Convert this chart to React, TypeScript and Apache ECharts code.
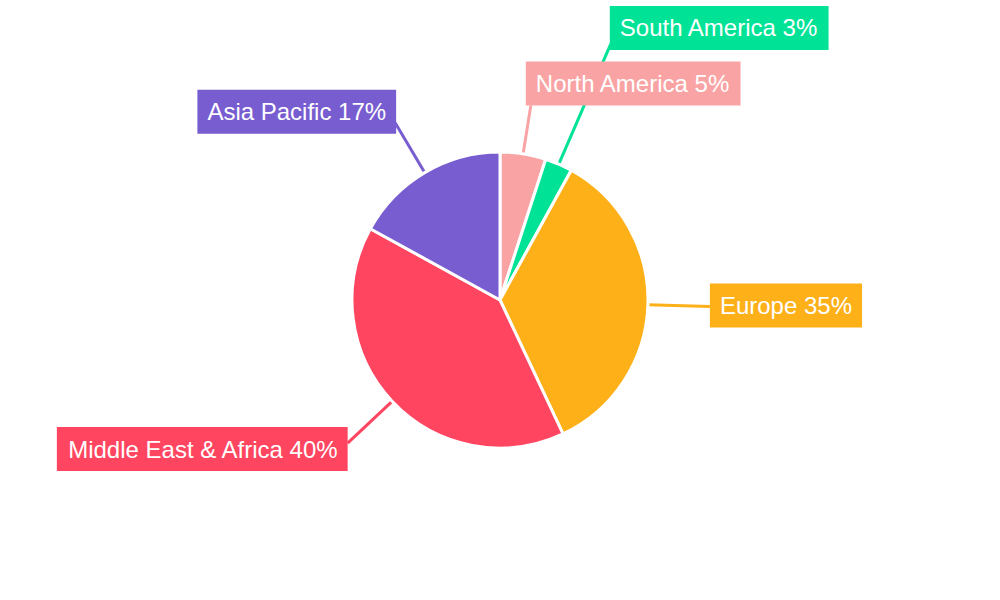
import React, { useEffect, useRef } from "react";
import * as echarts from "echarts";

const categories = ["North America", "South America", "Europe", "Middle East & Africa", "Asia Pacific"];
const values = [5, 3, 35, 40, 17];
const colors = ["#F9A3A4", "#00E396", "#FEB019", "#FF4560", "#775DD0"];
const lineLengths = [49, 131, 62, 61, 58];
const labelShiftX = [-5, -1, 0, 0, 1];
const labelShiftY = [-22, -16, -1, 6, -11];

export default function App() {
  const ref = useRef<HTMLDivElement>(null);
  useEffect(() => {
    document.body.style.margin = "0";
    const chart = echarts.init(ref.current!, null, { renderer: "svg" });
    chart.setOption({
      animation: false,
      backgroundColor: "#ffffff",
      series: [
        {
          type: "pie",
          center: [500, 300],
          radius: 148,
          startAngle: 90,
          clockwise: true,
          avoidLabelOverlap: false,
          itemStyle: { borderColor: "#ffffff", borderWidth: 3 },
          label: {
            show: true,
            position: "outside",
            formatter: "{b} {c}%",
            color: "#ffffff",
            fontFamily: "Liberation Sans",
            fontSize: 24,
            padding: [10, 10],
            distanceToLabelLine: 0,
          },
          labelLine: { show: true, length2: 0, smooth: false, lineStyle: { width: 3 } },
          labelLayout: (params: any) => ({ dx: labelShiftX[params.dataIndex], dy: labelShiftY[params.dataIndex] }),
          data: categories.map((name, i) => ({
            name,
            value: values[i],
            itemStyle: { color: colors[i] },
            label: { backgroundColor: colors[i] },
            labelLine: { length: lineLengths[i], length2: 0, lineStyle: { color: colors[i], width: 3 } },
          })),
        },
      ],
    });
    return () => chart.dispose();
  }, []);
  return <div ref={ref} style={{ width: 1000, height: 600 }} />;
}
